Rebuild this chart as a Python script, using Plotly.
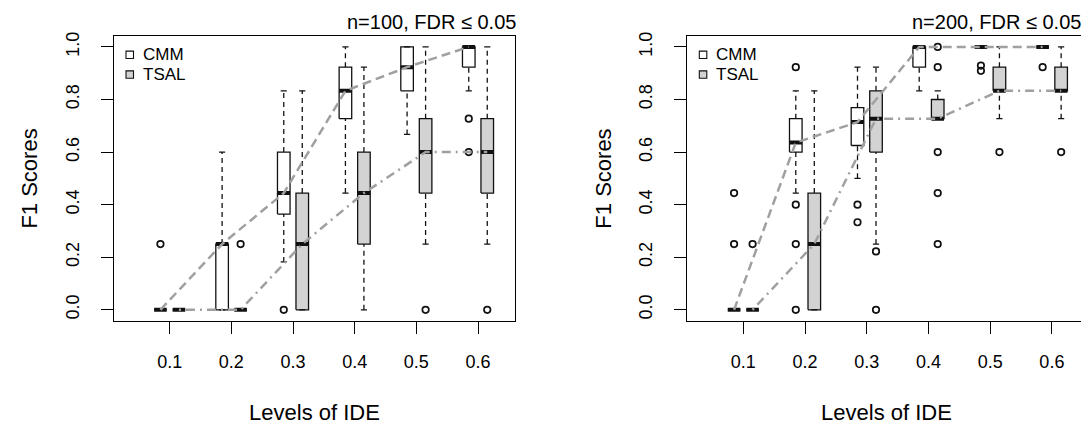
import plotly.graph_objects as go

# ---------------- data ----------------
levels = [0.1, 0.2, 0.3, 0.4, 0.5, 0.6]
x_tick_labels = ["0.1", "0.2", "0.3", "0.4", "0.5", "0.6"]
y_ticks = [0.0, 0.2, 0.4, 0.6, 0.8, 1.0]
y_tick_labels = ["0.0", "0.2", "0.4", "0.6", "0.8", "1.0"]
methods = ["CMM", "TSAL"]
panel_titles = ["n=100, FDR \u2264 0.05", "n=200, FDR \u2264 0.05"]

# n = 100 : CMM
cmm100_lo = [0.0, 0.0, 0.182, 0.444, 0.667, 0.833]
cmm100_q1 = [0.0, 0.0, 0.364, 0.727, 0.833, 0.923]
cmm100_med = [0.0, 0.25, 0.444, 0.833, 0.923, 1.0]
cmm100_q3 = [0.0, 0.25, 0.6, 0.923, 1.0, 1.0]
cmm100_hi = [0.0, 0.6, 0.833, 1.0, 1.0, 1.0]
cmm100_out = [[0.25], [], [0.0], [], [], [0.727, 0.6]]
# n = 100 : TSAL
tsal100_lo = [0.0, 0.0, 0.0, 0.0, 0.25, 0.25]
tsal100_q1 = [0.0, 0.0, 0.0, 0.25, 0.444, 0.444]
tsal100_med = [0.0, 0.0, 0.25, 0.444, 0.6, 0.6]
tsal100_q3 = [0.0, 0.0, 0.444, 0.6, 0.727, 0.727]
tsal100_hi = [0.0, 0.0, 0.833, 0.923, 1.0, 1.0]
tsal100_out = [[], [0.25], [], [], [0.0], [0.0]]

# n = 200 : CMM
cmm200_lo = [0.0, 0.444, 0.5, 0.833, 1.0, 1.0]
cmm200_q1 = [0.0, 0.6, 0.625, 0.923, 1.0, 1.0]
cmm200_med = [0.0, 0.636, 0.714, 1.0, 1.0, 1.0]
cmm200_q3 = [0.0, 0.727, 0.769, 1.0, 1.0, 1.0]
cmm200_hi = [0.0, 0.833, 0.923, 1.0, 1.0, 1.0]
cmm200_out = [[0.444, 0.25], [0.923, 0.4, 0.25, 0.0], [0.4, 0.333], [],
              [0.909, 0.929], [0.923]]
# n = 200 : TSAL
tsal200_lo = [0.0, 0.0, 0.25, 0.727, 0.727, 0.727]
tsal200_q1 = [0.0, 0.0, 0.6, 0.727, 0.833, 0.833]
tsal200_med = [0.0, 0.25, 0.727, 0.727, 0.833, 0.833]
tsal200_q3 = [0.0, 0.444, 0.833, 0.8, 0.923, 0.923]
tsal200_hi = [0.0, 0.833, 0.923, 0.833, 1.0, 1.0]
tsal200_out = [[0.25], [], [0.222, 0.0], [1.0, 0.923, 0.6, 0.444, 0.25],
               [0.6], [0.6]]

# ---------------- style ----------------
FONT = "Liberation Sans, Arial, Helvetica, sans-serif"
OFFSET = {"CMM": -0.015, "TSAL": 0.015}
FILL = {"CMM": "white", "TSAL": "#d3d3d3"}
HW = 0.0102   # box half width (x units)
SW = 0.005    # staple half width
LINE_DASH = {"CMM": "9px,5px", "TSAL": "2px,5px,9px,5px"}
GRAY = "#a0a0a0"
INK = "#111111"

# page offset (browser body margin) and figure size
OX, OY = 8, 8
W, H = 1081, 417


def px(x):
    return (x - OX) / W


def py(y):
    return 1 - (y - OY) / H


fig = go.Figure()


def add_group(stats, method, xa, ya):
    lo, q1, med, q3, hi, outl = stats
    off = OFFSET[method]
    bx, by, wx, wy, sx, sy, mx, my, ox, oy = ([] for _ in range(10))
    for lv, a, m, b, l, h, ol in zip(levels, q1, med, q3, lo, hi, outl):
        x = lv + off
        bx += [x - HW, x + HW, x + HW, x - HW, x - HW, None]
        by += [a, a, b, b, a, None]
        if h > b:
            wx += [x, x, None]
            wy += [b, h, None]
        if l < a:
            wx += [x, x, None]
            wy += [l, a, None]
        sx += [x - SW, x + SW, None, x - SW, x + SW, None]
        sy += [h, h, None, l, l, None]
        mx += [x - HW, x + HW, None]
        my += [m, m, None]
        ox += [x] * len(ol)
        oy += list(ol)
    common = dict(xaxis=xa, yaxis=ya, showlegend=False, hoverinfo="skip")
    fig.add_trace(go.Scatter(x=bx, y=by, mode="lines", fill="toself",
                             fillcolor=FILL[method],
                             line=dict(color=INK, width=1.3), **common))
    fig.add_trace(go.Scatter(x=wx, y=wy, mode="lines",
                             line=dict(color=INK, width=1.3, dash="5px,4px"),
                             **common))
    fig.add_trace(go.Scatter(x=sx, y=sy, mode="lines",
                             line=dict(color=INK, width=1.3), **common))
    fig.add_trace(go.Scatter(x=mx, y=my, mode="lines",
                             line=dict(color=INK, width=4), **common))
    fig.add_trace(go.Scatter(x=ox, y=oy, mode="markers",
                             marker=dict(symbol="circle-open", size=6.5, color=INK,
                                         line=dict(width=1.7, color=INK)),
                             **common))


def add_median_line(med, method, xa, ya):
    fig.add_trace(go.Scatter(x=[lv + OFFSET[method] for lv in levels], y=med,
                             mode="lines", xaxis=xa, yaxis=ya, showlegend=False,
                             hoverinfo="skip",
                             line=dict(color=GRAY, width=2.5, dash=LINE_DASH[method])))


panels = [
    ("x", "y",
     (cmm100_lo, cmm100_q1, cmm100_med, cmm100_q3, cmm100_hi, cmm100_out),
     (tsal100_lo, tsal100_q1, tsal100_med, tsal100_q3, tsal100_hi, tsal100_out)),
    ("x2", "y2",
     (cmm200_lo, cmm200_q1, cmm200_med, cmm200_q3, cmm200_hi, cmm200_out),
     (tsal200_lo, tsal200_q1, tsal200_med, tsal200_q3, tsal200_hi, tsal200_out)),
]

for xa, ya, cmm, tsal in panels:
    add_group(cmm, "CMM", xa, ya)
    add_group(tsal, "TSAL", xa, ya)
    add_median_line(cmm[2], "CMM", xa, ya)
    add_median_line(tsal[2], "TSAL", xa, ya)

# panel geometry in page pixels
frame_left = [114, 687.3]
frame_right = [515, 1085.7]
frame_top, frame_bottom = 31.7, 319.3
y_dom = [py(frame_bottom), py(frame_top)]
x_ranges = [[0.0097, 0.66], [0.0092, 0.6548]]

axis_common = dict(showline=True, linecolor="black", linewidth=1.3, mirror=True,
                   ticks="outside", ticklen=12, tickwidth=1.2, tickcolor="black",
                   showgrid=False, zeroline=False,
                   tickfont=dict(family=FONT, size=18, color="black"))

layout = dict(width=W, height=H, margin=dict(l=0, r=0, t=0, b=0),
              paper_bgcolor="white", plot_bgcolor="white", showlegend=False,
              font=dict(family=FONT, color="black"))
shapes, annotations = [], []
for i in range(2):
    sfx = "" if i == 0 else str(i + 1)
    xd = [px(frame_left[i]), px(frame_right[i])]
    layout["xaxis" + sfx] = dict(domain=xd, range=x_ranges[i], tickvals=levels,
                                 ticktext=x_tick_labels, anchor="y" + sfx,
                                 ticklabelstandoff=13,
                                 title=dict(text="Levels of IDE", standoff=35,
                                            font=dict(family=FONT, size=22)),
                                 **axis_common)
    layout["yaxis" + sfx] = dict(domain=y_dom, range=[-0.041, 1.04], tickvals=y_ticks,
                                 ticktext=y_tick_labels, tickangle=-90,
                                 anchor="x" + sfx, ticklabelstandoff=15,
                                 title=dict(text="F1 Scores", standoff=18,
                                            font=dict(family=FONT, size=22)),
                                 **axis_common)
    # legend keys and labels
    fl = frame_left[i]
    for k, (m, cy) in enumerate(zip(methods, [50.3, 70.3])):
        shapes.append(dict(type="rect", xref="paper", yref="paper",
                           x0=px(fl + 12), x1=px(fl + 19.5),
                           y0=py(cy + 3.7), y1=py(cy - 3.7),
                           fillcolor=FILL[m], line=dict(color=INK, width=1.1)))
        annotations.append(dict(x=px(fl + 27), y=py(cy), xref="paper", yref="paper",
                                text=m, showarrow=False, xanchor="left",
                                yanchor="middle",
                                font=dict(family=FONT, size=17, color="black")))

title_right = [518, 1083]
for tx, txt in zip(title_right, panel_titles):
    annotations.append(dict(x=px(tx), y=py(17.5), xref="paper", yref="paper",
                            text=txt, showarrow=False, xanchor="right",
                            yanchor="middle",
                            font=dict(family=FONT, size=20, color="black")))

layout["shapes"] = shapes
layout["annotations"] = annotations
fig.update_layout(**layout)

fig.write_html("out.html")
